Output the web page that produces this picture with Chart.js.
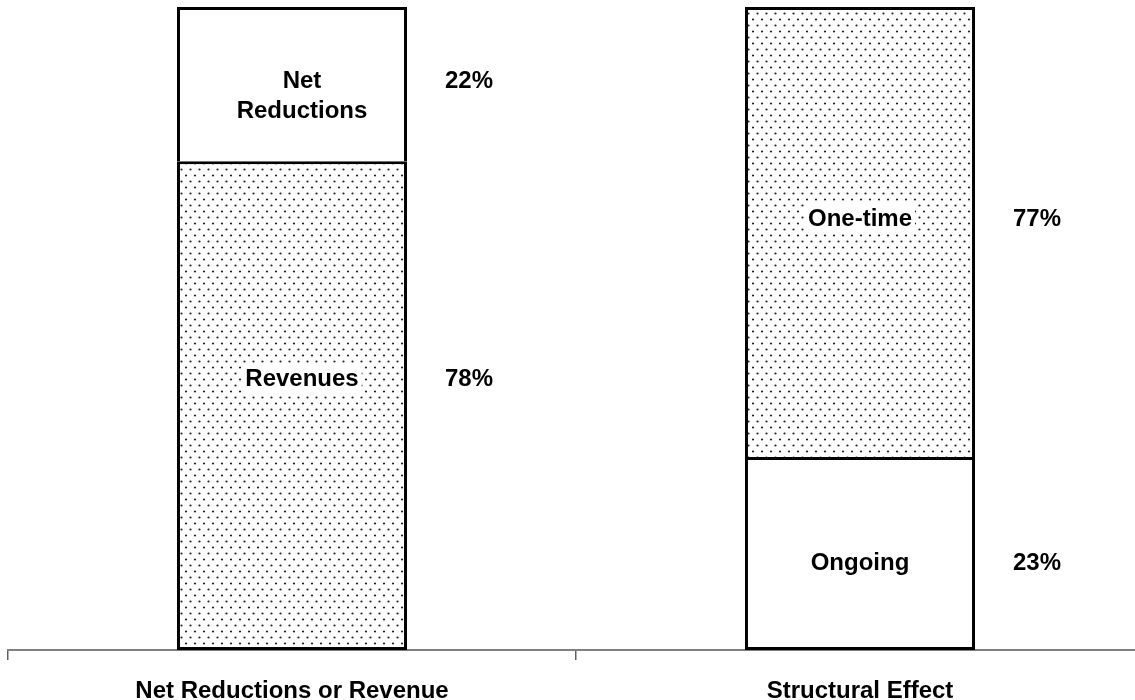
<!DOCTYPE html>
<html>
<head>
<meta charset="utf-8">
<script src="https://cdn.jsdelivr.net/npm/chart.js"></script>
<style>
  html, body { margin: 0; padding: 0; background: #fff; overflow: hidden; }
  #wrap { width: 1144px; height: 722px; }
</style>
</head>
<body>
<div id="wrap"><canvas id="chart"></canvas></div>
<script>
// values (segment heights in % of the bar)
const categories = ["Net Reductions or Revenue", "Structural Effect"];

const bottomNames = ["Revenues", "Ongoing"];
const bottomValues = [76, 30];
const bottomPercents = ["78%", "23%"];

const topNames = [["Net", "Reductions"], ["One-time"]];
const topValues = [24, 70];
const topPercents = ["22%", "77%"];

// dotted fill like the old print pattern
function dotPattern() {
  const c = document.createElement("canvas");
  c.width = 9; c.height = 12;
  const g = c.getContext("2d");
  g.fillStyle = "#fff";
  g.fillRect(0, 0, 9, 12);
  g.fillStyle = "#222";
  [[1.5, 1.5], [6, 7.5]].forEach(([x, y]) => {
    g.beginPath(); g.arc(x, y, 1.1, 0, Math.PI * 2); g.fill();
  });
  return g.createPattern(c, "repeat");
}
const dots = dotPattern();

const FONT = "bold 24px 'Liberation Sans', Arial, sans-serif";

function labelText(ctx, text, x, y, align, box) {
  ctx.save();
  ctx.font = FONT;
  const w = ctx.measureText(text).width;
  const left = align === "center" ? x - w / 2 : x;
  if (box) {
    ctx.fillStyle = "#fff";
    ctx.fillRect(left - 3, y - 15, w + 6, 30);
  }
  ctx.fillStyle = "#000";
  ctx.textAlign = "left";
  ctx.textBaseline = "middle";
  ctx.fillText(text, left, y + 1);
  ctx.restore();
}

const segmentLabels = {
  id: "segmentLabels",
  afterDatasetsDraw(chart, args, opts) {
    const ctx = chart.ctx;
    const sets = [[bottomNames, bottomPercents], [topNames, topPercents]];
    sets.forEach(([names, pcts], d) => {
      chart.getDatasetMeta(d).data.forEach((el, i) => {
        let lines = names[i];
        if (!Array.isArray(lines)) lines = [lines];
        const cy = (el.y + el.base) / 2 + opts.dy[d][i];
        const firstY = cy - (lines.length - 1) * opts.lineGap / 2;
        const cx = el.x + opts.dx[i];
        lines.forEach((t, k) => labelText(ctx, t, cx, firstY + k * opts.lineGap, "center", true));
        labelText(ctx, pcts[i], el.x + el.width / 2 + opts.pctGap, firstY, "left", false);
      });
    });
  }
};

new Chart(document.getElementById("chart"), {
  type: "bar",
  data: {
    labels: categories,
    datasets: [
      {
        label: "Bottom",
        data: bottomValues,
        backgroundColor: [dots, "#fff"],
        borderColor: "#000",
        borderWidth: 3,
        borderSkipped: false
      },
      {
        label: "Top",
        data: topValues,
        backgroundColor: ["#fff", dots],
        borderColor: "#000",
        borderWidth: { top: 3, left: 3, right: 3, bottom: 0 },
        borderSkipped: false
      }
    ]
  },
  options: {
    responsive: true,
    maintainAspectRatio: false,
    animation: false,
    layout: { padding: { left: 8, top: 7, right: 0, bottom: 0 } },
    barPercentage: 0.405,
    categoryPercentage: 1,
    plugins: {
      legend: { display: false },
      tooltip: { enabled: false },
      segmentLabels: {
        dy: [[-27, 9], [11, -14]],
        dx: [10, 0],
        lineGap: 30,
        pctGap: 38
      }
    },
    scales: {
      x: {
        stacked: true,
        border: { display: true, color: "#808080", width: 2 },
        grid: {
          offset: true,
          drawOnChartArea: false,
          drawTicks: true,
          tickLength: 10,
          color: "#606060",
          lineWidth: 1.5
        },
        ticks: {
          color: "#000",
          padding: 19,
          font: { family: "'Liberation Sans', Arial, sans-serif", size: 24, weight: "bold", lineHeight: 1 }
        }
      },
      y: {
        stacked: true,
        display: false,
        min: 0,
        max: 100
      }
    }
  },
  plugins: [segmentLabels]
});
</script>
</body>
</html>
